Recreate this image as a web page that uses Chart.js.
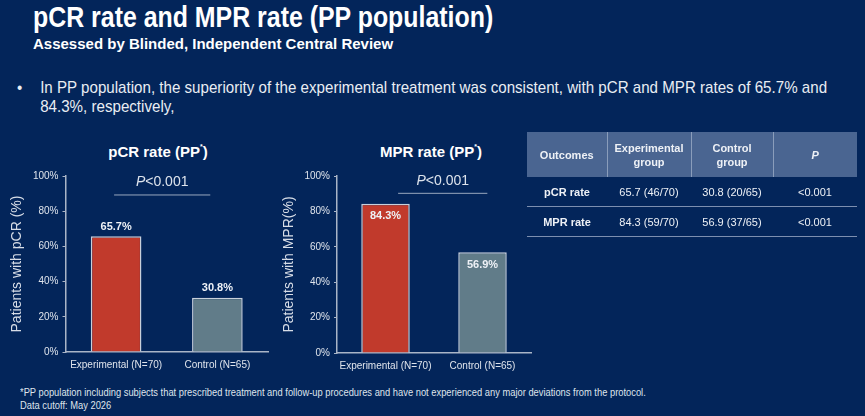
<!DOCTYPE html>
<html>
<head>
<meta charset="utf-8">
<script src="https://cdn.jsdelivr.net/npm/chart.js@4"></script>
<style>
  html, body { margin: 0; padding: 0; }
  body { width: 865px; height: 416px; background: #03255a; position: relative; overflow: hidden;
         font-family: "Liberation Sans", Arial, sans-serif; color: #fff; }
  .abs { position: absolute; white-space: nowrap; }
  #title { left: 33px; top: 0px; font-size: 30px; font-weight: bold; transform: scaleX(0.83); transform-origin: left top; }
  #subtitle { left: 33px; top: 35px; font-size: 15px; font-weight: bold; }
  #bullet { left: 17px; top: 78px; font-size: 17px; color: #e9edf3; line-height: 19px; transform: scaleX(0.89); transform-origin: left top; }
  #bullet .b { position: absolute; left: 0; }
  #bullet .t { position: absolute; left: 26px; }
  .ctitle { font-size: 15px; font-weight: bold; transform: translateX(-50%); }
  .ctitle sup { font-size: 7px; vertical-align: 8px; }
  canvas { position: absolute; }
  #foot { left: 20px; top: 386px; font-size: 10.5px; color: #dfe4ec; line-height: 13px; transform: scaleX(0.89); transform-origin: left top; }
  table { position: absolute; left: 527px; top: 132px; width: 330px; border-collapse: collapse; font-size: 11px; color: #eef1f6; table-layout: fixed; }
  th { background: #4a6591; font-weight: bold; height: 45px; padding: 0; text-align: center; line-height: 14px; border-left: 1px solid #8a9dbb; }
  th:first-child { border-left: none; }
  td { height: 29px; padding: 0; text-align: center; border-bottom: 1px solid #7d8fb0; }
  td:first-child { font-weight: bold; }
</style>
</head>
<body>
<div id="title" class="abs">pCR rate and MPR rate (PP population)</div>
<div id="subtitle" class="abs">Assessed by Blinded, Independent Central Review</div>
<div id="bullet" class="abs" style="width:1000px;height:40px">
  <span class="b">•</span>
  <span class="t">In PP population, the superiority of the experimental treatment was consistent, with pCR and MPR rates of 65.7% and<br>84.3%, respectively,</span>
</div>

<div class="abs ctitle" style="left:158px;top:143px">pCR rate (PP<sup>*</sup>)</div>
<div class="abs ctitle" style="left:431px;top:143px">MPR rate (PP<sup>*</sup>)</div>

<canvas id="pcrChart" width="280" height="230" style="left:0px;top:150px;width:280px;height:230px"></canvas>
<canvas id="mprChart" width="280" height="230" style="left:270px;top:150px;width:280px;height:230px"></canvas>

<table>
  <colgroup><col style="width:80px"><col style="width:84px"><col style="width:82px"><col style="width:84px"></colgroup>
  <thead>
    <tr><th>Outcomes</th><th>Experimental<br>group</th><th>Control<br>group</th><th><i>P</i></th></tr>
  </thead>
  <tbody id="tbody"></tbody>
</table>

<div id="foot" class="abs">*PP population including subjects that prescribed treatment and follow-up procedures and have not experienced any major deviations from the protocol.<br>Data cutoff: May 2026</div>

<script>
"use strict"

const groups = ["Experimental (N=70)", "Control (N=65)"];
const pcrRates = [65.7, 30.8];
const mprRates = [84.3, 56.9];
const yTicks = [0, 20, 40, 60, 80, 100];

const outcomes = ["pCR rate", "MPR rate"];
const expCells = ["65.7 (46/70)", "84.3 (59/70)"];
const ctrlCells = ["30.8 (20/65)", "56.9 (37/65)"];
const pCells = ["<0.001", "<0.001"];

// table rows
outcomes.forEach((name, i) => {
  document.getElementById('tbody').insertAdjacentHTML('beforeend',
    `<tr><td>${name}</td><td>${expCells[i]}</td><td>${ctrlCells[i]}</td><td>${pCells[i]}</td></tr>`);
});

const FONT = "'Liberation Sans', Arial, sans-serif";
const AXIS = '#aab5c7';

// value labels on the bars
const barLabels = {
  id: 'barLabels',
  afterDatasetsDraw(chart, args, opts) {
    const ctx = chart.ctx;
    const meta = chart.getDatasetMeta(0);
    ctx.save();
    ctx.font = 'bold 11px ' + FONT;
    ctx.fillStyle = '#eef1f6';
    ctx.textAlign = 'center';
    meta.data.forEach((bar, i) => {
      const v = chart.data.datasets[0].data[i];
      if (opts.inside) {
        ctx.textBaseline = 'top';
        ctx.fillText(v.toFixed(1) + '%', bar.x, bar.y + 7);
      } else {
        ctx.textBaseline = 'bottom';
        ctx.fillText(v.toFixed(1) + '%', bar.x, bar.y - 4);
      }
    });
    ctx.restore();
  }
};

// P value bracket
const pValue = {
  id: 'pValue',
  afterDraw(chart, args, opts) {
    const ctx = chart.ctx;
    const xs = chart.scales.x, ys = chart.scales.y;
    const x1 = xs.getPixelForValue(opts.from), x2 = xs.getPixelForValue(opts.to);
    const y = ys.getPixelForValue(opts.at);
    ctx.save();
    ctx.strokeStyle = '#9aa8bf';
    ctx.lineWidth = 1;
    ctx.beginPath();
    ctx.moveTo(x1, y + 0.5);
    ctx.lineTo(x2, y + 0.5);
    ctx.stroke();
    ctx.fillStyle = '#dde3ec';
    ctx.textBaseline = 'alphabetic';
    ctx.font = 'italic 14px ' + FONT;
    const w1 = ctx.measureText('P').width;
    ctx.font = '14px ' + FONT;
    const w2 = ctx.measureText('<0.001').width;
    const cx = (x1 + x2) / 2;
    let sx = cx - (w1 + w2) / 2;
    ctx.textAlign = 'left';
    ctx.font = 'italic 14px ' + FONT;
    ctx.fillText('P', sx, y - 8);
    ctx.font = '14px ' + FONT;
    ctx.fillText('<0.001', sx + w1, y - 8);
    ctx.restore();
  }
};

function makeChart(id, values, yTitle, pad, labelsInside, pOpts) {
  return new Chart(document.getElementById(id).getContext('2d'), {
    type: 'bar',
    data: {
      labels: groups,
      datasets: [{
        data: values,
        backgroundColor: ['#c13a2c', '#617c89'],
        borderColor: '#c8d0db',
        borderWidth: 1.5,
        borderSkipped: 'bottom',
        barPercentage: 0.5,
        categoryPercentage: 1
      }]
    },
    options: {
      responsive: false,
      animation: false,
      layout: { padding: pad },
      plugins: {
        legend: { display: false },
        tooltip: { enabled: false },
        barLabels: { inside: labelsInside },
        pValue: pOpts
      },
      scales: {
        x: {
          grid: { display: false, drawTicks: false },
          border: { display: true, color: AXIS, width: 1.5 },
          ticks: { color: '#dfe4ec', font: { family: FONT, size: 10 }, padding: 7, maxRotation: 0, autoSkip: false },
          afterFit: s => { s.height = 24; }
        },
        y: {
          min: 0, max: 100,
          afterBuildTicks: s => { s.ticks = yTicks.map(v => ({ value: v })); },
          grid: { drawOnChartArea: false, drawTicks: true, tickLength: 3, color: AXIS },
          border: { display: true, color: AXIS, width: 1.5 },
          ticks: { color: '#dfe4ec', font: { family: FONT, size: 10 }, padding: 4, callback: v => v + '%' },
          title: { display: true, text: yTitle, color: '#d7dde7', font: { family: FONT, size: 14 }, padding: { top: 0, bottom: 2 } },
          afterFit: s => { s.width = pad.yw; }
        }
      }
    },
    plugins: [barLabels, pValue]
  });
}

makeChart('pcrChart', pcrRates, 'Patients with pCR (%)',
  { left: 9, right: 12, top: 26, bottom: 4, yw: 56.5 }, false,
  { from: -0.02, to: 0.93, at: 89.5 });
makeChart('mprChart', mprRates, 'Patients with MPR(%)',
  { left: 11, right: 19, top: 26, bottom: 3, yw: 56 }, true,
  { from: 0.13, to: 1.05, at: 90.5 });
</script>
</body>
</html>
